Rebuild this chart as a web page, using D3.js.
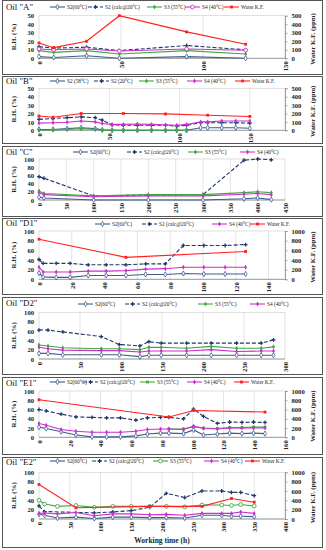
<!DOCTYPE html>
<html><head><meta charset="utf-8">
<script src="https://cdn.jsdelivr.net/npm/d3@7"></script>
<style>body{margin:0;background:#fff;} svg{display:block;font-family:"Liberation Serif","Times New Roman",serif;}</style>
</head><body><svg id="c" width="326" height="550"></svg>
<script>
// ---------------- DATA ----------------
const A_time = [0, 9, 29, 49, 90, 126];
const A_s2_60 = [2, 1, 3, 0, 2, 0];
const A_s2_calc = [13.5, 12, 13, 9, 15, 10];
const A_s3 = [9, 7, 9, 5, 9, 5];
const A_s4 = [11, 10, 11, 8.5, 11, 9.5];
const A_water = [180, 125, 200, 500, 310, 165];

const B_time = [0,10,20,30,40,45,52,60,70,80,90,98,105,115,120,130,140,150];
const B_s2_58 = [1,1,2,3,2,0.5,0,0,0,0,0,0,0,3,3,3,3,2.5];
const B_s2_20 = [13,14,15,16,15,12,6.5,6,6,6,6,5,6,9,9,9,9,8.5];
const B_s3_time = [0,10,20,30,40,45,52,60,70,80,90,98,105];
const B_s3 = [0,0.5,1,2,1,0,0,0,0,0,0,0,0];
const B_s4 = [8.5,9,9.5,11,10,8,7,7,7.5,7,6.5,6,7,10,10,11,11,11];
const B_water_time = [0,10,30,60,90,120,150];
const B_water = [170,155,200,200,195,180,165];

const C_time = [0, 9, 100, 200, 300, 375, 400, 425];
const C_s2_60 = [7, 5, 0, 0, 0, 3, 5, 1];
const C_s2_calc = [57, 53, 10, 12, 13, 97, 100, 98];
const C_s3 = [22, 16, 10, 13, 13, 18, 20, 18];
const C_s4 = [18, 13, 8, 10, 10, 14, 16, 13];

const D1_time = [0, 2.5, 10.5, 19, 30, 41, 53, 65, 77, 88, 100.5, 113.5, 126];
const D1_s2_60 = [13,5,4,4,8,8,8,10,10,12,11,11,11];
const D1_s2_calc = [41,33,33,33,30,30,30,32,32,70,70,70,72];
const D1_s4 = [25,15,15,15,17,17,18,21,22,25,25,25,25];
const D1_water_time = [0, 53, 126];
const D1_water = [830, 455, 575];

const D2_time = [0, 11, 29, 76, 98, 123, 134, 149, 180, 210, 241, 271, 286];
const D2_s2_60 = [12,12,9,9,9,5,8,8,8,8,8,8,8];
const D2_s2_calc = [62,62,58,48,31,28,37,34,34,34,34,34,41];
const D2_s3 = [30,28,24,22,22,20,25,25,23,27,23,23,26];
const D2_s4 = [25,22,19,18,18,15,17,17,17,20,16,17,17];

const E1_time = [0,4.7,14.4,24,34.5,44,53,63,70.5,79,84.5,94,100.5,107,116,124,132,139.5,147];
const E1_s2_60 = [22,19,12,5,1,1,1,3,7,9,9,8,16,5,7,9,8,9,8];
const E1_s2_calc = [60,57,50,44,43,42,42,37,42,43,43,40,61,45,30,33,32,33,32];
const E1_s3_time = [84.5,94,100.5,107,116,124,132,139.5,147];
const E1_s3 = [18,18,23,20,19,21,21,22,22];
const E1_s4 = [30,26,17,13,11,11,11,13,17,18,18,17,24,19,18,20,20,20,20];
const E1_water_time = [0, 84.5, 100.7, 147];
const E1_water = [810, 440, 580, 545];

const E2_time = [0,9,30,60,90,120,150,180,207,237,265,297,313,328,350];
const E2_s2_60 = [10,8,2,4,1,4,4,3,3,2,8,8,6,6,5];
const E2_s2_calc_time = [0,9,90,120,150,180,207,237,265,297,313,328,350];
const E2_s2_calc = [28,16,13,15,18,25,55,46,60,60,57,57,50];
const E2_s3 = [40,32,27,29,25,27,27,27,27,26,30,30,29,31,28];
const E2_s4 = [12,13,11,14,7,11,11,9,10,8,12,12,12,15,12];
const E2_water_time = [0, 60, 180, 265, 313, 350];
const E2_water = [740, 240, 270, 270, 440, 360];

const ticksA = [0,50,100,150];
const ticksC = [0,50,100,150,200,250,300,350,400,450];
const ticksD1 = [0,20,40,60,80,100,120,140];
const ticksD2 = [0,50,100,150,200,250,300];
const ticksE1 = [0,20,40,60,80,100,120,140,160];
const ticksE2 = [0,50,100,150,200,250,300,350,400];

// ---------------- STYLES ----------------
const ST = {
  s260: {color:"#3E5C8E", dash:null, marker:"diamond"},
  s2c: {color:"#1F3668", dash:"4,2", marker:"cross"},
  s3: {color:"#3DAA3D", dash:null, marker:"dot"},
  s3o: {color:"#3DAA3D", dash:null, marker:"ocircle"},
  s3sq: {color:"#3DAA3D", dash:null, marker:"square"},
  s4: {color:"#CC30CC", dash:null, marker:"dot"},
  s4o: {color:"#CC30CC", dash:null, marker:"ocircle"},
  w: {color:"#FF2020", dash:null, marker:"square"}
};

const panels = [
  {title:'Oil "A"', box:[0,74], top:15.7, bot:58.3, xmax:150, xticks:ticksA, ymax:50, ystep:10, rmax:500, rstep:100, tY:10, lY:7,
   series:[
     {name:"S2(60°C)", st:"s260", t:A_time, v:A_s2_60, lx:50},
     {name:"S2 (calc@20°C)", st:"s2c", t:A_time, v:A_s2_calc, lx:88},
     {name:"S3 (55°C)", st:"s3", t:A_time, v:A_s3, lx:147},
     {name:"S4 (40°C)", st:"s4o", t:A_time, v:A_s4, lx:185},
     {name:"Water K.F.", st:"w", t:A_time, v:A_water, lx:224, right:true}]},
  {title:'Oil "B"', box:[76,143], top:88.3, bot:130.3, xmax:175, xticks:ticksA, ymax:50, ystep:10, rmax:500, rstep:100, tY:84, lY:81,
   series:[
     {name:"S2 (58°C)", st:"s260", t:B_time, v:B_s2_58, lx:50},
     {name:"S2 (20°C)", st:"s2c", t:B_time, v:B_s2_20, lx:94},
     {name:"S3 (55°C)", st:"s3", t:B_s3_time, v:B_s3, lx:139},
     {name:"S4 (40°C)", st:"s4", t:B_time, v:B_s4, lx:187},
     {name:"Water K.F.", st:"w", t:B_water_time, v:B_water, lx:235, right:true}]},
  {title:'Oil "C"', box:[146,216], top:159, bot:200, xmax:450, xticks:ticksC, ymax:100, ystep:20, rmax:null, tY:155, lY:152,
   series:[
     {name:"S2(60°C)", st:"s260", t:C_time, v:C_s2_60, lx:73},
     {name:"S2 (calc@20°C)", st:"s2c", t:C_time, v:C_s2_calc, lx:127},
     {name:"S3 (55°C)", st:"s3", t:C_time, v:C_s3, lx:188},
     {name:"S4 (40°C)", st:"s4", t:C_time, v:C_s4, lx:240}]},
  {title:'Oil "D1"', box:[218,294], top:231, bot:279.3, xmax:150, xticks:ticksD1, ymax:100, ystep:20, rmax:1000, rstep:200, tY:226, lY:224,
   series:[
     {name:"S2(60°C)", st:"s260", t:D1_time, v:D1_s2_60, lx:95},
     {name:"S2 (calc@20°C)", st:"s2c", t:D1_time, v:D1_s2_calc, lx:142},
     {name:"S4 (40°C)", st:"s4", t:D1_time, v:D1_s4, lx:212},
     {name:"Water K.F.", st:"w", t:D1_water_time, v:D1_water, lx:250, right:true}]},
  {title:'Oil "D2"', box:[297,374], top:312.3, bot:359, xmax:300, xticks:ticksD2, ymax:100, ystep:20, rmax:null, tY:306, lY:304,
   series:[
     {name:"S2(60°C)", st:"s260", t:D2_time, v:D2_s2_60, lx:78},
     {name:"S2 (calc@20°C)", st:"s2c", t:D2_time, v:D2_s2_calc, lx:125},
     {name:"S3 (55°C)", st:"s3", t:D2_time, v:D2_s3, lx:198},
     {name:"S4 (40°C)", st:"s4", t:D2_time, v:D2_s4, lx:250}]},
  {title:'Oil "E1"', box:[377,454], top:391, bot:437.3, xmax:160, xticks:ticksE1, ymax:100, ystep:20, rmax:1000, rstep:200, tY:386, lY:382,
   series:[
     {name:"S2(60°C)", st:"s260", t:E1_time, v:E1_s2_60, lx:50},
     {name:"S2 (calc@20°C)", st:"s2c", t:E1_time, v:E1_s2_calc, lx:83},
     {name:"S3 (55°C)", st:"s3sq", t:E1_s3_time, v:E1_s3, lx:140},
     {name:"S4 (40°C)", st:"s4", t:E1_time, v:E1_s4, lx:187},
     {name:"Water K.F.", st:"w", t:E1_water_time, v:E1_water, lx:234, right:true}]},
  {title:'Oil "E2"', box:[457,547], top:472.3, bot:519, xmax:400, xticks:ticksE2, ymax:100, ystep:20, rmax:1000, rstep:200, tY:465, lY:461, xtitle:"Working time (h)",
   series:[
     {name:"S2(60°C)", st:"s260", t:E2_time, v:E2_s2_60, lx:50},
     {name:"S2 (calc@20°C)", st:"s2c", t:E2_s2_calc_time, v:E2_s2_calc, lx:92},
     {name:"S3 (55°C)", st:"s3o", t:E2_time, v:E2_s3, lx:153},
     {name:"S4 (40°C)", st:"s4", t:E2_time, v:E2_s4, lx:204},
     {name:"Water K.F.", st:"w", t:E2_water_time, v:E2_water, lx:245, right:true}]}
];

const svg = d3.select("#c");
const X0 = 39, X1 = 285;
const TF = 6.6; // tick font size

function drawMarker(g, type, color, x, y) {
  if (type === "diamond") {
    g.append("path").attr("d", d3.symbol(d3.symbolDiamond, 8)()).attr("transform",`translate(${x},${y})`)
      .attr("fill","#fff").attr("stroke",color).attr("stroke-width",0.8);
  } else if (type === "cross") {
    g.append("path").attr("d", d3.symbol(d3.symbolCross, 8)()).attr("transform",`translate(${x},${y})`)
      .attr("fill",color);
  } else if (type === "dot") {
    g.append("path").attr("d", d3.symbol(d3.symbolDiamond, 7)()).attr("transform",`translate(${x},${y})`)
      .attr("fill",color);
  } else if (type === "ocircle") {
    g.append("circle").attr("cx",x).attr("cy",y).attr("r",1.9)
      .attr("fill","#fff").attr("stroke",color).attr("stroke-width",0.9);
  } else if (type === "square") {
    g.append("path").attr("d", d3.symbol(d3.symbolSquare, 8)()).attr("transform",`translate(${x},${y})`)
      .attr("fill",color);
  }
}

panels.forEach(p => {
  const g = svg.append("g");
  g.append("rect").attr("x",2.5).attr("y",p.box[0]+0.5).attr("width",320).attr("height",p.box[1]-p.box[0])
    .attr("fill","#fff").attr("stroke","#555").attr("stroke-width",1);

  const x = d3.scaleLinear().domain([0,p.xmax]).range([X0,X1]);
  const y = d3.scaleLinear().domain([0,p.ymax]).range([p.bot,p.top]);
  const yr = p.rmax ? d3.scaleLinear().domain([0,p.rmax]).range([p.bot,p.top]) : null;
  const yt = d3.range(0, p.ymax + 0.001, p.ystep);

  // vertical grid
  g.append("g").selectAll("line").data(p.xticks.filter(d=>d>0 && d<p.xmax)).join("line")
    .attr("x1",d=>x(d)).attr("x2",d=>x(d)).attr("y1",p.top).attr("y2",p.bot)
    .attr("stroke","#d9d9d9").attr("stroke-width",0.7);
  g.append("rect").attr("x",X0).attr("y",p.top).attr("width",X1-X0).attr("height",p.bot-p.top)
    .attr("fill","none").attr("stroke","#d0d0d0").attr("stroke-width",0.7);
  g.append("line").attr("x1",X0).attr("x2",X1).attr("y1",p.bot).attr("y2",p.bot).attr("stroke","#8a8a8a").attr("stroke-width",0.8);

  // left axis
  const la = g.append("g").attr("transform",`translate(${X0},0)`)
    .call(d3.axisLeft(y).tickValues(yt).tickSize(0).tickPadding(5).tickFormat(d3.format("d")));
  la.select(".domain").remove();
  la.selectAll("text").attr("font-size",TF).attr("font-weight","bold").attr("font-family","Liberation Serif").attr("fill","#222");
  // right axis
  if (yr) {
    const ra = g.append("g").attr("transform",`translate(${X1},0)`)
      .call(d3.axisRight(yr).tickValues(d3.range(0,p.rmax+0.001,p.rstep)).tickSize(2.5).tickPadding(4).tickFormat(d3.format("d")));
    ra.select(".domain").attr("stroke","#8a8a8a").attr("stroke-width",0.8);
    ra.selectAll(".tick line").attr("stroke","#8a8a8a").attr("stroke-width",0.7);
    ra.selectAll("text").attr("font-size",TF).attr("font-weight","bold").attr("font-family","Liberation Serif").attr("fill","#222");
    g.append("text").attr("transform",`translate(${315},${(p.top+p.bot)/2+2}) rotate(-90)`)
      .attr("text-anchor","middle").attr("font-size",6.8).attr("font-weight","bold").attr("fill","#222")
      .text("Water K.F. (ppm)");
  }
  // bottom axis
  const ba = g.append("g").attr("transform",`translate(0,${p.bot})`)
    .call(d3.axisBottom(x).tickValues(p.xticks).tickSize(0).tickPadding(3).tickFormat(d3.format("d")));
  ba.select(".domain").remove();
  ba.selectAll("text").attr("font-size",TF).attr("font-weight","bold").attr("font-family","Liberation Serif").attr("fill","#222")
    .attr("text-anchor","end").attr("transform","rotate(-90)").attr("x",-3).attr("y",0).attr("dy","0.35em");

  // y title
  g.append("text").attr("transform",`translate(${16},${(p.top+p.bot)/2}) rotate(-90)`)
    .attr("text-anchor","middle").attr("font-size",6.8).attr("font-weight","bold").attr("fill","#222")
    .text("R.H.  (%)");
  // title
  g.append("text").attr("x",6).attr("y",p.tY).attr("font-size",8.8).attr("fill","#111").text(p.title);
  if (p.xtitle) g.append("text").attr("x",162).attr("y",543).attr("text-anchor","middle")
    .attr("font-size",7.5).attr("font-weight","bold").attr("fill","#222").text(p.xtitle);

  // series
  p.series.forEach(s => {
    const st = ST[s.st];
    const ys = s.right ? yr : y;
    const pts = s.t.map((t,i)=>[t,s.v[i]]).filter(d=>d[1]!=null);
    const line = d3.line().x(d=>x(d[0])).y(d=>ys(d[1]));
    g.append("path").datum(pts).attr("d",line).attr("fill","none").attr("stroke",st.color)
      .attr("stroke-width",1.1).attr("stroke-dasharray",st.dash);
    const mg = g.append("g");
    pts.forEach(d=>drawMarker(mg, st.marker, st.color, x(d[0]), ys(d[1])));
    // legend
    const lg = g.append("g");
    lg.append("line").attr("x1",s.lx).attr("x2",s.lx+15).attr("y1",p.lY).attr("y2",p.lY)
      .attr("stroke",st.color).attr("stroke-width",1.1).attr("stroke-dasharray",st.dash);
    drawMarker(lg, st.marker, st.color, s.lx+7.5, p.lY);
    lg.append("text").attr("x",s.lx+17).attr("y",p.lY+1.8).attr("font-size",5.3).attr("fill","#222").text(s.name);
  });
});
</script></body></html>
